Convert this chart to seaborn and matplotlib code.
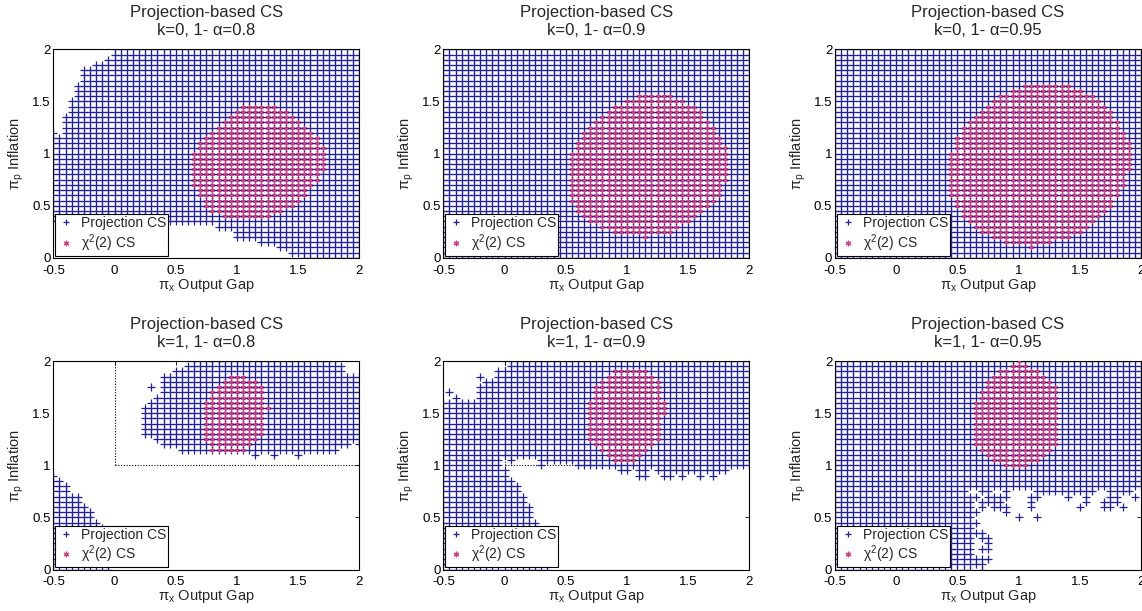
import numpy as np
import pandas as pd
import matplotlib
matplotlib.use("Agg")
import matplotlib.pyplot as plt
from matplotlib.lines import Line2D
import seaborn as sns

nan = np.nan

# evaluation grid: columns every 0.05 from -0.5 to 2
x_cols = np.round(np.arange(-0.5, 2.001, 0.05), 2)

# ---- projection CS, per column lower / upper y ----
# k=0, 0.8
p1_lo = [0.35] * 27 + [0.3] * 3 + [0.2] * 4 + [0.15] * 3 + [0.1] * 2 + [0.05] * 2 + [0.0] * 10
p1_hi = [1.2, 1.15, 1.35, 1.5, 1.65, 1.8, 1.8, 1.85, 1.85, 1.9] + [2.0] * 41
# k=0, 0.9 and 0.95: whole grid
full_lo = [0.0] * 51
full_hi = [2.0] * 51
# k=1, 0.8
p4_lo_a = [0.0] * 10 + [nan] * 41
p4_hi_a = [0.9, 0.85, 0.8, 0.7, 0.7, 0.6, 0.55, 0.45, 0.4, 0.3] + [nan] * 41
p4_lo_b = [nan] * 15 + [1.3, 1.3, 1.25, 1.2, 1.2, 1.2, 1.15, 1.15] + [1.15] * 24 + [1.2, 1.2, 1.25, 1.2]
p4_hi_b = [nan] * 15 + [1.55, 1.6, 1.65, 1.85, 1.85, 1.9, 1.9, 1.95] + [2.0] * 24 + [1.95, 1.85, 1.85, 1.85]
p4_extra = [(0.3, 1.75), (1.15, 1.1), (1.3, 1.1), (1.5, 1.1)]
# k=1, 0.9
p5_lo_a = [0.0] * 18 + [nan] * 33
p5_hi_a = [1.6, 1.6, 1.65, 1.6, 1.6, 1.6, 1.75, 1.8, 1.8, 1.9,
           0.95, 0.85, 0.8, 0.7, 0.6, 0.45, 0.35, 0.15] + [nan] * 33
p5_lo_b = ([nan] * 10 + [1.1, 1.05, 1.1, 1.1, 1.1, 1.1, 1.0, 1.05, 1.05, 1.05, 1.05, 1.05]
           + [1.0] * 7
           + [0.95, 0.95, 1.0, 0.9, 0.9, 1.0, 0.95, 0.9, 0.9, 0.95, 0.9, 0.95, 0.95, 0.9, 0.95, 0.9, 0.95, 0.95]
           + [1.0] * 4)
p5_hi_b = [nan] * 10 + [1.9] + [2.0] * 40
p5_extra = [(-0.45, 1.7), (-0.2, 1.85)]
# k=1, 0.95
p6_lo_a = [0.0] * 23 + [nan] * 28
p6_hi_a = [2.0] * 22 + [0.7] + [nan] * 28
p6_lo_b = [nan] * 22 + [0.8] * 29
p6_hi_b = [nan] * 22 + [2.0] * 29
p6_extra = [(0.7, 0.75), (0.75, 0.75), (0.9, 0.75), (1.15, 0.75), (1.2, 0.75), (1.25, 0.75),
            (1.3, 0.75), (1.35, 0.75), (1.4, 0.75), (1.45, 0.75), (1.5, 0.75), (1.55, 0.75),
            (1.6, 0.75), (1.75, 0.75), (1.8, 0.75), (1.85, 0.75), (1.9, 0.75),
            (0.65, 0.7), (0.75, 0.7), (0.8, 0.7), (0.85, 0.7), (0.9, 0.7), (1.1, 0.7),
            (1.15, 0.7), (1.4, 0.7), (1.55, 0.7), (1.75, 0.7), (1.8, 0.7), (1.95, 0.7),
            (0.7, 0.65), (0.75, 0.65), (0.8, 0.65), (0.85, 0.65), (1.1, 0.65), (1.55, 0.65),
            (1.7, 0.65), (1.75, 0.65), (1.8, 0.65),
            (0.7, 0.6), (0.8, 0.6), (0.85, 0.6), (0.9, 0.6), (1.1, 0.6), (1.5, 0.6),
            (1.7, 0.6), (1.75, 0.6), (1.85, 0.6),
            (0.65, 0.55), (0.9, 0.55), (1.0, 0.5), (1.15, 0.5), (0.65, 0.45),
            (0.65, 0.35), (0.7, 0.35), (0.7, 0.3), (0.75, 0.3), (0.75, 0.25),
            (0.7, 0.2), (0.75, 0.2), (0.65, 0.1), (0.7, 0.1), (0.75, 0.1),
            (0.65, 0.05), (0.7, 0.05), (0.7, 0.0)]

# ---- chi2(2) CS, first column and per column lower / upper y ----
r1_x0 = 0.65
r1_lo = [0.7, 0.6, 0.5, 0.45, 0.45, 0.4, 0.4, 0.4, 0.4, 0.4, 0.4, 0.4, 0.4, 0.45, 0.45, 0.5, 0.5, 0.55, 0.6, 0.7, 0.75, 0.85]
r1_hi = [1.0, 1.1, 1.15, 1.2, 1.25, 1.3, 1.35, 1.4, 1.45, 1.45, 1.45, 1.45, 1.45, 1.45, 1.4, 1.4, 1.35, 1.3, 1.25, 1.2, 1.15, 1.05]
r2_x0 = 0.55
r2_lo = [0.55, 0.45, 0.4, 0.35, 0.35, 0.3, 0.3, 0.25, 0.25, 0.25, 0.25, 0.25, 0.2, 0.25, 0.25, 0.25, 0.25,
         0.3, 0.35, 0.35, 0.4, 0.45, 0.5, 0.55, 0.6, 0.75]
r2_hi = [1.0, 1.1, 1.2, 1.25, 1.3, 1.35, 1.4, 1.45, 1.45, 1.5, 1.5, 1.55, 1.55, 1.55, 1.55, 1.55, 1.55,
         1.5, 1.5, 1.45, 1.45, 1.4, 1.3, 1.25, 1.15, 1.05]
r3_x0 = 0.45
r3_lo = [0.6, 0.5, 0.4, 0.35, 0.3, 0.25, 0.25, 0.2, 0.2, 0.15, 0.15, 0.15, 0.15, 0.1, 0.15, 0.15, 0.15,
         0.2, 0.2, 0.2, 0.25, 0.25, 0.3, 0.35, 0.4, 0.45, 0.5, 0.6, 0.7, 0.85]
r3_hi = [1.0, 1.15, 1.25, 1.3, 1.35, 1.4, 1.45, 1.5, 1.55, 1.55, 1.6, 1.6, 1.65, 1.65, 1.65, 1.65, 1.65,
         1.65, 1.65, 1.65, 1.6, 1.6, 1.55, 1.55, 1.5, 1.45, 1.4, 1.3, 1.2, 1.1]
r4_x0 = 0.75
r4_lo = [1.25, 1.15, 1.15, 1.15, 1.15, 1.15, 1.15, 1.2, 1.25, 1.3, 1.55]
r4_hi = [1.6, 1.7, 1.75, 1.8, 1.85, 1.85, 1.85, 1.8, 1.8, 1.75, 1.55]
r5_x0 = 0.7
r5_lo = [1.25, 1.2, 1.15, 1.1, 1.05, 1.05, 1.05, 1.05, 1.1, 1.15, 1.2, 1.25, 1.5]
r5_hi = [1.6, 1.75, 1.8, 1.85, 1.9, 1.9, 1.9, 1.9, 1.9, 1.9, 1.85, 1.8, 1.6]
r6_x0 = 0.65
r6_lo = [1.2, 1.15, 1.1, 1.05, 1.05, 1.0, 1.0, 1.0, 1.0, 1.05, 1.05, 1.1, 1.15, 1.2]
r6_hi = [1.6, 1.7, 1.8, 1.85, 1.9, 1.9, 1.95, 2.0, 1.95, 1.9, 1.9, 1.85, 1.8, 1.75]

titles = ["k=0, 1- α=0.8", "k=0, 1- α=0.9", "k=0, 1- α=0.95",
          "k=1, 1- α=0.8", "k=1, 1- α=0.9", "k=1, 1- α=0.95"]
x_ticks = [-0.5, 0, 0.5, 1, 1.5, 2]
x_ticklabels = ["-0.5", "0", "0.5", "1", "1.5", "2"]
y_ticks = [0, 0.5, 1, 1.5, 2]
y_ticklabels = ["0", "0.5", "1", "1.5", "2"]

blue = "#20209e"
red = "#d23c7c"


def grid_points(lo, hi, xs):
    rows = []
    for x, a, b in zip(xs, lo, hi):
        if np.isnan(a):
            continue
        n = int(round((b - a) / 0.05)) + 1
        for k in range(n):
            rows.append((x, round(a + 0.05 * k, 2)))
    return rows


def red_points(x0, lo, hi):
    xs = np.round(x0 + 0.05 * np.arange(len(lo)), 2)
    return grid_points(lo, hi, xs)


panels = [
    dict(segs=[(p1_lo, p1_hi)], extra=[], red=(r1_x0, r1_lo, r1_hi), box=False),
    dict(segs=[(full_lo, full_hi)], extra=[], red=(r2_x0, r2_lo, r2_hi), box=False),
    dict(segs=[(full_lo, full_hi)], extra=[], red=(r3_x0, r3_lo, r3_hi), box=False),
    dict(segs=[(p4_lo_a, p4_hi_a), (p4_lo_b, p4_hi_b)], extra=p4_extra, red=(r4_x0, r4_lo, r4_hi), box=True),
    dict(segs=[(p5_lo_a, p5_hi_a), (p5_lo_b, p5_hi_b)], extra=p5_extra, red=(r5_x0, r5_lo, r5_hi), box=True),
    dict(segs=[(p6_lo_a, p6_hi_a), (p6_lo_b, p6_hi_b)], extra=p6_extra, red=(r6_x0, r6_lo, r6_hi), box=True),
]

sns.set_style("white")
plt.rcParams["font.family"] = ["Liberation Sans", "DejaVu Sans"]
plt.rcParams["mathtext.fontset"] = "custom"
plt.rcParams["mathtext.rm"] = "Liberation Sans"

fig = plt.figure(figsize=(11.42, 6.11), dpi=100)
lefts = [0.0467, 0.3882, 0.7312]
bottoms = [0.578, 0.0679]
w, h = 0.268, 0.3412

for i, p in enumerate(panels):
    ax = fig.add_axes([lefts[i % 3], bottoms[i // 3], w, h])

    if p["box"]:
        ax.plot([0, 0], [1, 2], color="black", lw=0.8, ls=(0, (1, 1.5)), zorder=1)
        ax.plot([0, 2], [1, 1], color="black", lw=0.8, ls=(0, (1, 1.5)), zorder=1)

    pts = []
    for lo, hi in p["segs"]:
        pts += grid_points(lo, hi, x_cols)
    pts += p["extra"]
    blue_df = pd.DataFrame(pts, columns=["x", "y"])
    sns.scatterplot(data=blue_df, x="x", y="y", marker="+", s=26, color=blue,
                    linewidth=0.9, ax=ax, legend=False, zorder=2)

    red_df = pd.DataFrame(red_points(*p["red"]), columns=["x", "y"])
    sns.scatterplot(data=red_df, x="x", y="y", marker=(6, 2, 0), s=7, color=red,
                    linewidth=0.7, ax=ax, legend=False, zorder=3)

    ax.set_xlim(-0.5, 2)
    ax.set_ylim(0, 2)
    ax.set_xticks(x_ticks)
    ax.set_xticklabels(x_ticklabels)
    ax.set_yticks(y_ticks)
    ax.set_yticklabels(y_ticklabels)
    ax.tick_params(direction="in", top=True, right=True, length=3, width=0.6,
                   labelsize=9.5, colors="black")
    ax.tick_params(axis="x", pad=5)
    ax.tick_params(axis="y", pad=2)
    for sp in ax.spines.values():
        sp.set_color("black")
        sp.set_linewidth(0.8)
        sp.set_visible(True)

    ax.set_title("Projection-based CS\n" + titles[i], fontsize=12, pad=10, linespacing=1.3)
    ax.set_xlabel("π$_\\mathregular{x}$ Output Gap", fontsize=10.5, labelpad=0)
    ax.set_ylabel("π$_\\mathregular{p}$ Inflation", fontsize=10.5, labelpad=4)

    handles = [Line2D([], [], ls="none", marker="+", color=blue, markersize=5, mew=0.9),
               Line2D([], [], ls="none", marker=(6, 2, 0), color=red, markersize=4, mew=0.9)]
    leg = ax.legend(handles, ["Projection CS", "χ$^\\mathregular{2}$(2) CS"], loc="lower left",
                    fontsize=10, frameon=True, fancybox=False, framealpha=1,
                    edgecolor="black", borderaxespad=0.15, borderpad=0.15,
                    labelspacing=0.15, handlelength=1.2, handletextpad=0.5)
    leg.get_frame().set_linewidth(0.8)
    leg.set_zorder(5)

fig.savefig("out.png", dpi=100)
